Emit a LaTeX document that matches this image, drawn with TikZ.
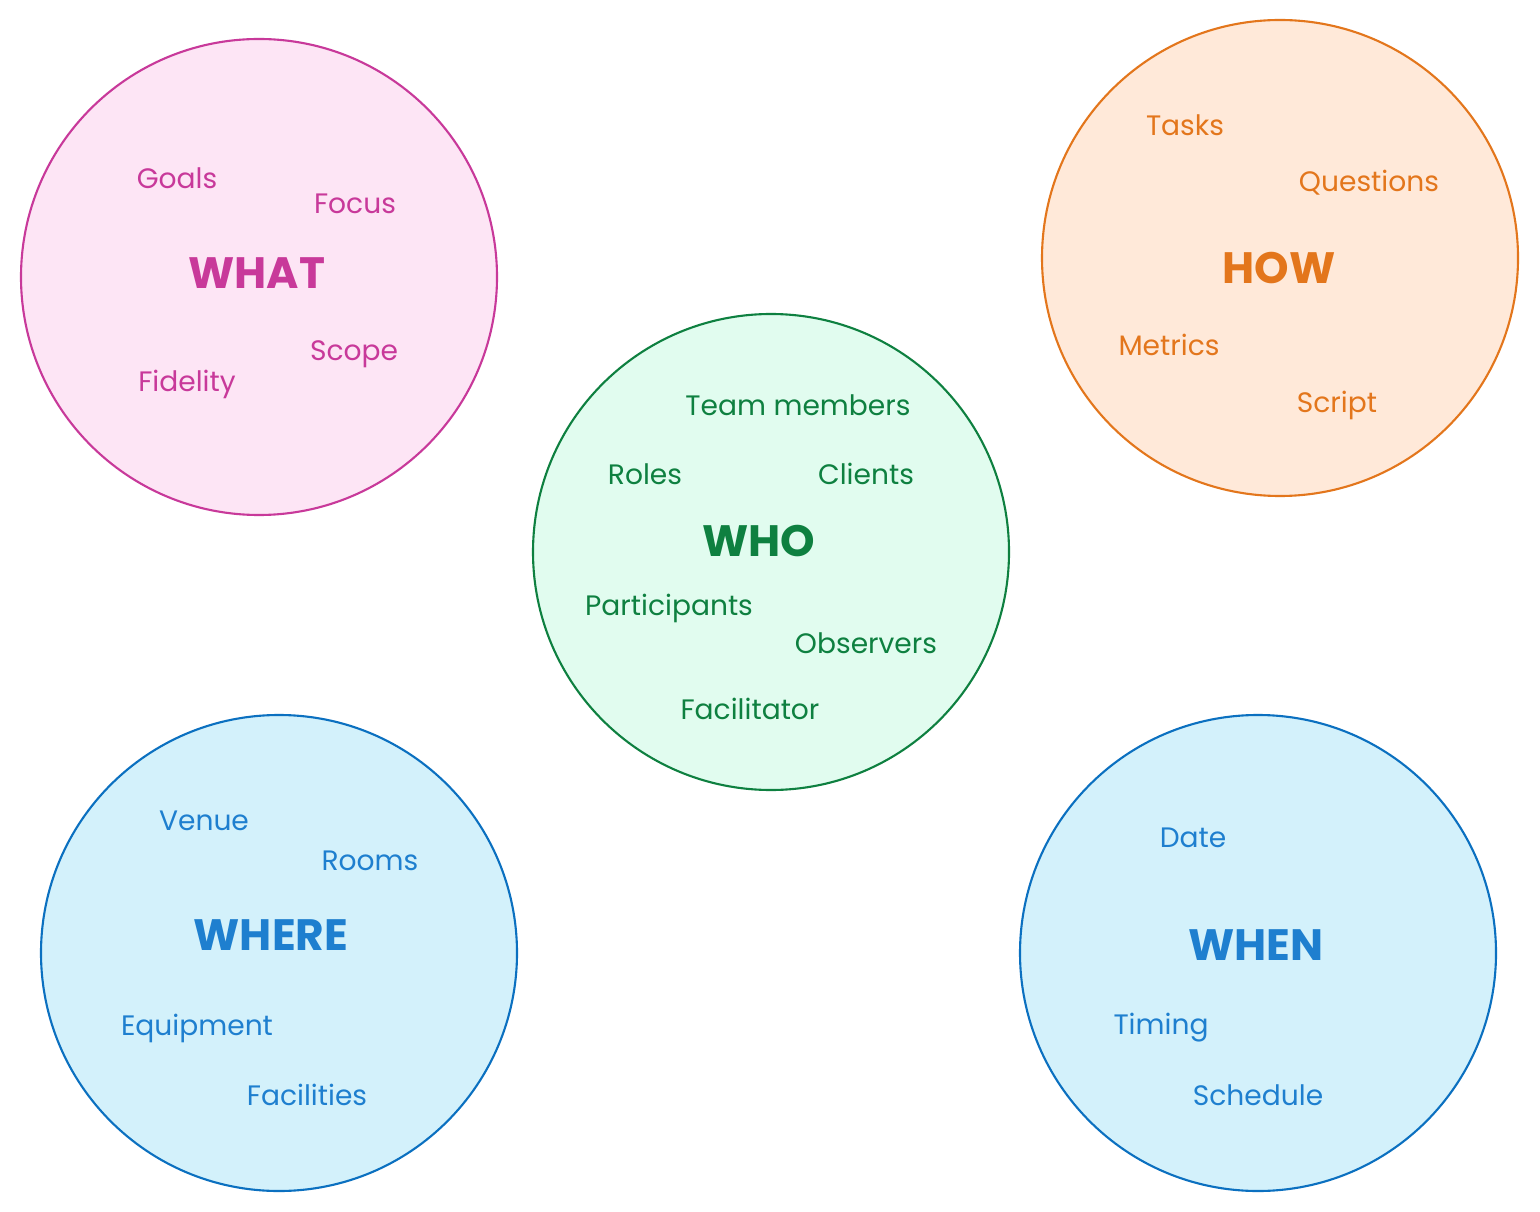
\documentclass[tikz,border=0pt]{standalone}
\usepackage{fontspec}
\setmainfont{Poppins}
\definecolor{whatfill}{HTML}{FDE5F5}\definecolor{whatline}{HTML}{C8399A}
\definecolor{howfill}{HTML}{FFE9D9}\definecolor{howline}{HTML}{E3761C}
\definecolor{whofill}{HTML}{E1FCEF}\definecolor{wholine}{HTML}{0E8040}
\definecolor{bluefill}{HTML}{D3F1FB}\definecolor{blueline}{HTML}{0B70C0}
\definecolor{bluetext}{HTML}{1E7FCF}
\tikzset{
    topic/.style={font=\fontsize{25}{25}\selectfont\bfseries},
    item/.style={font=\fontsize{16}{16}\selectfont},
    ring/.style={line width=1.2pt},
}
\begin{document}
\begin{tikzpicture}[x=0.02cm,y=-0.02cm]
\useasboundingbox (0,0) rectangle (1540,1212);
% circles
\draw[ring,fill=whatfill,draw=whatline] (259,277) circle (238);
\draw[ring,fill=howfill,draw=howline] (1280,258) circle (238);
\draw[ring,fill=whofill,draw=wholine] (771,552) circle (238);
\draw[ring,fill=bluefill,draw=blueline] (279,953) circle (238);
\draw[ring,fill=bluefill,draw=blueline] (1258,953) circle (238);
% what
\begin{scope}[whatline]
\node[topic] (what) at (257,273) {WHAT};
\node[item] (goals) at (177,178) {Goals};
\node[item] (focus) at (355,204) {Focus};
\node[item] (scope) at (354,354) {Scope};
\node[item] (fidelity) at (187,384) {Fidelity};
\end{scope}
% how
\begin{scope}[howline]
\node[topic] (how) at (1279,268) {HOW};
\node[item] (tasks) at (1185,125) {Tasks};
\node[item] (questions) at (1369,183) {Questions};
\node[item] (metrics) at (1169,345) {Metrics};
\node[item] (script) at (1337,405) {Script};
\end{scope}
% who
\begin{scope}[wholine]
\node[topic] (who) at (759,541) {WHO};
\node[item] (team) at (798,405) {Team members};
\node[item] (roles) at (645,474) {Roles};
\node[item] (clients) at (866,474) {Clients};
\node[item] (participants) at (669,608) {Participants};
\node[item] (observers) at (866,643) {Observers};
\node[item] (facilitator) at (750,709) {Facilitator};
\end{scope}
% where
\begin{scope}[bluetext]
\node[topic] (where) at (271,935) {WHERE};
\node[item] (venue) at (204,821) {Venue};
\node[item] (rooms) at (370,861) {Rooms};
\node[item] (equipment) at (197,1028) {Equipment};
\node[item] (facilities) at (307,1095) {Facilities};
% when
\node[topic] (when) at (1256,945) {WHEN};
\node[item] (date) at (1193,838) {Date};
\node[item] (timing) at (1161,1028) {Timing};
\node[item] (schedule) at (1258,1095) {Schedule};
\end{scope}
\end{tikzpicture}
\end{document}
